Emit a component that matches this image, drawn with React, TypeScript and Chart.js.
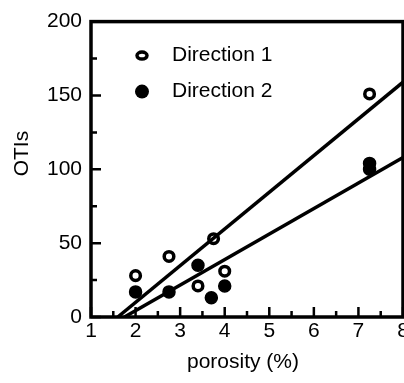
import React, { useEffect, useRef } from "react";
import { Chart, registerables } from "chart.js";

Chart.register(...registerables);

// ---- data ----
const dir1X = [2.0, 2.75, 3.4, 3.75, 4.0, 7.25];
const dir1Y = [28, 41, 21, 53, 31, 151];
const dir2X = [2.0, 2.75, 3.4, 3.7, 4.0, 7.25, 7.25];
const dir2Y = [17, 17, 35, 13, 21, 100, 104];

// fitted regression lines (end points)
const fit1X = [1.6, 8];
const fit1Y = [0, 159];
const fit2X = [1.75, 8];
const fit2Y = [0, 108];

const xMajorTicks = [1, 2, 3, 4, 5, 6, 7, 8];
const xMinorTicks = [1.5, 2.5, 3.5, 4.5, 5.5, 6.5, 7.5];
const yMajorTicks = [0, 50, 100, 150, 200];
const yMinorTicks = [25, 75, 125, 175];

const seriesNames = ["Direction 1", "Direction 2"];
const xTitle = "porosity (%)";
const yTitle = "OTIs";

const FONT = '"Liberation Sans", Arial, Helvetica, sans-serif';
const FS = 21;

const toPts = (xs: number[], ys: number[]) => xs.map((x, i) => ({ x, y: ys[i] }));

const framePlugin = {
  id: "frameTicks",
  beforeDatasetsDraw(chart: any) {
    const { ctx, chartArea } = chart;
    const { left, top, right, bottom } = chartArea;
    const xs = chart.scales.x;
    const ys = chart.scales.y;
    ctx.save();
    ctx.strokeStyle = "#000";
    ctx.lineWidth = 3.5;
    ctx.strokeRect(left, top, right - left, bottom - top);
    ctx.lineWidth = 2.5;
    ctx.beginPath();
    xMajorTicks.forEach((v) => {
      const p = xs.getPixelForValue(v);
      ctx.moveTo(p, bottom);
      ctx.lineTo(p, bottom - 10);
    });
    xMinorTicks.forEach((v) => {
      const p = xs.getPixelForValue(v);
      ctx.moveTo(p, bottom);
      ctx.lineTo(p, bottom - 6);
    });
    yMajorTicks.forEach((v) => {
      const p = ys.getPixelForValue(v);
      ctx.moveTo(left, p);
      ctx.lineTo(left + 10, p);
    });
    yMinorTicks.forEach((v) => {
      const p = ys.getPixelForValue(v);
      ctx.moveTo(left, p);
      ctx.lineTo(left + 6, p);
    });
    ctx.stroke();
    ctx.restore();
  },
  afterDraw(chart: any) {
    const { ctx, chartArea } = chart;
    const { left, top, bottom } = chartArea;
    ctx.save();
    ctx.fillStyle = "#000";
    ctx.strokeStyle = "#000";
    ctx.font = `${FS}px ${FONT}`;
    ctx.textBaseline = "middle";
    // legend
    const mx = left + 51;
    const tx = left + 81;
    const y1 = top + 34;
    const y2 = top + 70;
    ctx.lineWidth = 3.5;
    ctx.beginPath();
    ctx.ellipse(mx, y1, 5, 3.5, 0, 0, Math.PI * 2);
    ctx.stroke();
    ctx.beginPath();
    ctx.arc(mx, y2, 7, 0, Math.PI * 2);
    ctx.fill();
    ctx.textAlign = "left";
    ctx.fillText(seriesNames[0], tx, y1);
    ctx.fillText(seriesNames[1], tx, y2);
    // x title
    ctx.textAlign = "center";
    ctx.fillText(xTitle, left + 152, bottom + 45);
    // y title
    ctx.translate(22, top + 132);
    ctx.rotate(-Math.PI / 2);
    ctx.fillText(yTitle, 0, 0);
    ctx.restore();
  },
};

export default function App() {
  const ref = useRef<HTMLCanvasElement>(null);
  useEffect(() => {
    if (!ref.current) return;
    const chart = new Chart(ref.current, {
      type: "scatter",
      data: {
        datasets: [
          {
            label: "fit 1",
            data: toPts(fit1X, fit1Y),
            showLine: true,
            borderColor: "#000",
            borderWidth: 3.5,
            pointRadius: 0,
            order: 0,
          },
          {
            label: "fit 2",
            data: toPts(fit2X, fit2Y),
            showLine: true,
            borderColor: "#000",
            borderWidth: 3.5,
            pointRadius: 0,
            order: 0,
          },
          {
            label: seriesNames[0],
            data: toPts(dir1X, dir1Y),
            pointStyle: "circle",
            pointRadius: 4.8,
            pointBorderWidth: 3.5,
            pointBorderColor: "#000",
            pointBackgroundColor: "rgba(255,255,255,0)",
            order: 1,
          },
          {
            label: seriesNames[1],
            data: toPts(dir2X, dir2Y),
            pointStyle: "circle",
            pointRadius: 6,
            pointBorderWidth: 1.5,
            pointBorderColor: "#000",
            pointBackgroundColor: "#000",
            order: 1,
          },
        ],
      },
      options: {
        animation: false,
        responsive: false,
        layout: { padding: { top: 18, right: 37, left: 0, bottom: 0 } },
        plugins: {
          legend: { display: false },
          tooltip: { enabled: false },
        },
        scales: {
          x: {
            type: "linear",
            min: 1,
            max: 8,
            grid: { display: false, drawTicks: false },
            border: { display: false },
            ticks: {
              stepSize: 1,
              autoSkip: false,
              maxRotation: 0,
              padding: 2,
              color: "#000",
              font: { family: FONT, size: FS },
            },
            afterFit: (s: any) => {
              s.height = 66;
            },
          },
          y: {
            type: "linear",
            min: 0,
            max: 200,
            grid: { display: false, drawTicks: false },
            border: { display: false },
            ticks: {
              stepSize: 50,
              padding: 9,
              color: "#000",
              font: { family: FONT, size: FS },
            },
            afterFit: (s: any) => {
              s.width = 91;
            },
          },
        },
      },
      plugins: [framePlugin],
    });
    return () => chart.destroy();
  }, []);
  return (
    <div
      style={{
        position: "absolute",
        left: 0,
        top: 0,
        width: 404,
        height: 383,
        overflow: "hidden",
        background: "#fff",
      }}
    >
      <canvas ref={ref} width={440} height={383} style={{ width: 440, height: 383, display: "block" }} />
    </div>
  );
}
